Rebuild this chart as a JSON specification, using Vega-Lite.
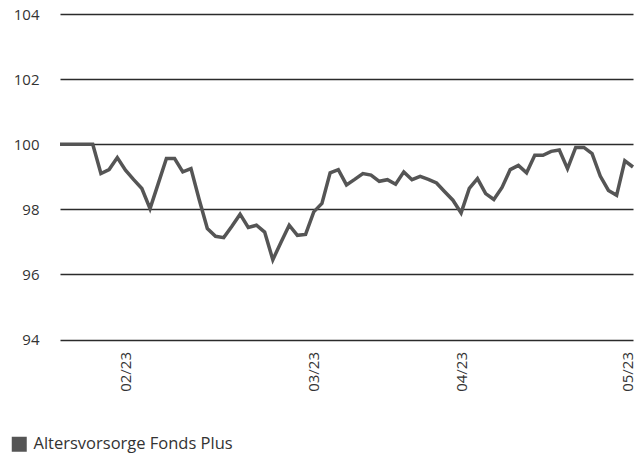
{
  "$schema": "https://vega.github.io/schema/vega-lite/v6.json",
  "autosize": "none",
  "width": 573,
  "height": 325.5,
  "padding": {"left": 60, "top": 14, "right": 8, "bottom": 114.5},
  "background": "white",
  "config": {
    "view": {"stroke": null},
    "font": "Open Sans"
  },
  "data": {
    "values": [
      {"i": 0, "v": 100.0}, {"i": 1, "v": 100.0}, {"i": 2, "v": 100.0}, {"i": 3, "v": 100.0}, {"i": 4, "v": 100.0},
      {"i": 5, "v": 99.10}, {"i": 6, "v": 99.22}, {"i": 7, "v": 99.59}, {"i": 8, "v": 99.20}, {"i": 9, "v": 98.91},
      {"i": 10, "v": 98.64}, {"i": 11, "v": 98.02}, {"i": 12, "v": 98.79}, {"i": 13, "v": 99.56}, {"i": 14, "v": 99.56},
      {"i": 15, "v": 99.15}, {"i": 16, "v": 99.25}, {"i": 17, "v": 98.30}, {"i": 18, "v": 97.41}, {"i": 19, "v": 97.17},
      {"i": 20, "v": 97.13}, {"i": 21, "v": 97.48}, {"i": 22, "v": 97.85}, {"i": 23, "v": 97.44}, {"i": 24, "v": 97.51},
      {"i": 25, "v": 97.30}, {"i": 26, "v": 96.45}, {"i": 27, "v": 96.99}, {"i": 28, "v": 97.51}, {"i": 29, "v": 97.20},
      {"i": 30, "v": 97.23}, {"i": 31, "v": 97.92}, {"i": 32, "v": 98.18}, {"i": 33, "v": 99.12}, {"i": 34, "v": 99.22},
      {"i": 35, "v": 98.75}, {"i": 36, "v": 98.92}, {"i": 37, "v": 99.10}, {"i": 38, "v": 99.05}, {"i": 39, "v": 98.86},
      {"i": 40, "v": 98.91}, {"i": 41, "v": 98.77}, {"i": 42, "v": 99.15}, {"i": 43, "v": 98.91}, {"i": 44, "v": 99.01},
      {"i": 45, "v": 98.92}, {"i": 46, "v": 98.81}, {"i": 47, "v": 98.54}, {"i": 48, "v": 98.28}, {"i": 49, "v": 97.89},
      {"i": 50, "v": 98.64}, {"i": 51, "v": 98.94}, {"i": 52, "v": 98.48}, {"i": 53, "v": 98.30}, {"i": 54, "v": 98.67},
      {"i": 55, "v": 99.22}, {"i": 56, "v": 99.35}, {"i": 57, "v": 99.12}, {"i": 58, "v": 99.66}, {"i": 59, "v": 99.66},
      {"i": 60, "v": 99.78}, {"i": 61, "v": 99.82}, {"i": 62, "v": 99.25}, {"i": 63, "v": 99.90}, {"i": 64, "v": 99.90},
      {"i": 65, "v": 99.71}, {"i": 66, "v": 99.02}, {"i": 67, "v": 98.58}, {"i": 68, "v": 98.43}, {"i": 69, "v": 99.49},
      {"i": 70, "v": 99.30}
    ]
  },
  "transform": [{"calculate": "'Altersvorsorge Fonds Plus'", "as": "series"}],
  "mark": {"type": "line", "strokeWidth": 3.5, "strokeJoin": "miter", "clip": false},
  "encoding": {
    "x": {
      "field": "i",
      "type": "quantitative",
      "scale": {"domain": [0, 70], "nice": false, "zero": false},
      "axis": {
        "title": null,
        "grid": false,
        "domain": false,
        "ticks": false,
        "tickSize": 0,
        "values": [8, 31, 49, 69.3],
        "labelExpr": "datum.value == 8 ? '02/23' : datum.value == 31 ? '03/23' : datum.value == 49 ? '04/23' : '05/23'",
        "labelAngle": 270,
        "labelAlign": "right",
        "labelBaseline": "middle",
        "labelPadding": 12,
        "labelFlush": false,
        "labelOverlap": false,
        "labelFontSize": 15,
        "labelColor": "#333333",
        "labelFont": "Open Sans"
      }
    },
    "y": {
      "field": "v",
      "type": "quantitative",
      "scale": {"domain": [94, 104], "nice": false, "zero": false},
      "axis": {
        "title": null,
        "values": [94, 96, 98, 100, 102, 104],
        "grid": true,
        "gridColor": "#2b2b2b",
        "gridWidth": 1.5,
        "gridOpacity": 1,
        "domain": false,
        "ticks": false,
        "tickSize": 0,
        "labelPadding": 21,
        "labelFontSize": 15,
        "labelColor": "#333333",
        "labelFont": "Open Sans"
      }
    },
    "color": {
      "field": "series",
      "type": "nominal",
      "scale": {"range": ["#555555"]},
      "legend": {
        "title": null,
        "orient": "none",
        "legendX": -49,
        "legendY": 422,
        "symbolType": "square",
        "symbolSize": 225,
        "symbolFillColor": "#555555",
        "symbolStrokeColor": "#555555",
        "symbolStrokeWidth": 0,
        "symbolOpacity": 1,
        "labelFontSize": 16.5,
        "labelLimit": 0,
        "labelColor": "#333333",
        "labelFont": "Open Sans",
        "labelOffset": 6
      }
    }
  }
}
